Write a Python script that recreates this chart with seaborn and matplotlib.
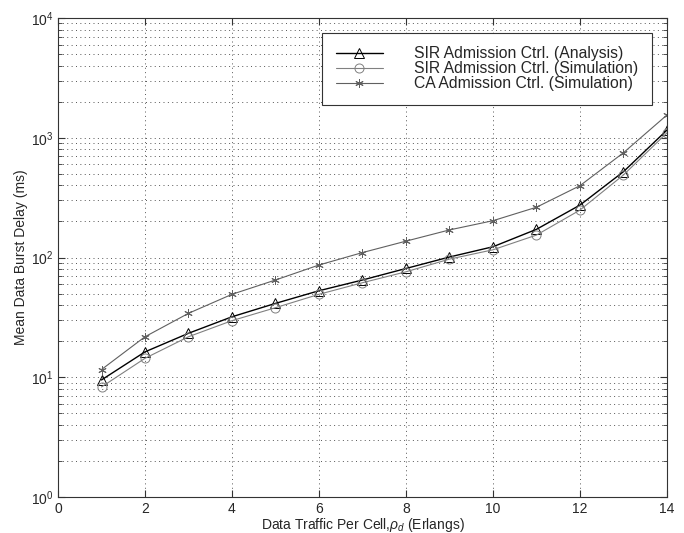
import pandas as pd
import seaborn as sns
import matplotlib.pyplot as plt
import numpy as np

# data
traffic = [1, 2, 3, 4, 5, 6, 7, 8, 9, 10, 11, 12, 13, 14]
sir_analysis = [9.5, 16.3, 23.3, 32, 41.4, 52.8, 64.9, 81, 101, 123, 172, 274, 521, 1160]
sir_sim = [8.3, 14.4, 21.8, 29.7, 38.1, 49.3, 61.6, 76, 97, 116, 154, 249, 489, 1100]
ca_sim = [11.6, 21.8, 34.2, 49.3, 64.9, 86.6, 110, 137, 170, 203, 263, 398, 750, 1550]

labels = ["SIR Admission Ctrl. (Analysis)",
          "SIR Admission Ctrl. (Simulation)",
          "CA Admission Ctrl. (Simulation)"]

sns.set_style("ticks")
plt.rcParams['font.family'] = ['Liberation Sans', 'DejaVu Sans']
plt.rcParams['mathtext.fontset'] = 'custom'
plt.rcParams['mathtext.rm'] = 'Liberation Sans'
plt.rcParams['mathtext.it'] = 'Liberation Sans:italic'

fig = plt.figure(figsize=(6.84, 5.33), dpi=100)
ax = fig.add_axes([0.0848, 0.0675, 0.8903, 0.8987])

styles = [
    dict(color="black", marker="^", ms=6.5, lw=1.0),
    dict(color="#808080", marker="o", ms=6.5, lw=0.8),
    dict(color="#606060", marker=(6, 2, 0), ms=6, lw=0.8),
]
for y, lab, st in zip([sir_analysis, sir_sim, ca_sim], labels, styles):
    sns.lineplot(x=traffic, y=y, ax=ax, label=lab, color=st["color"],
                 marker=st["marker"], markersize=st["ms"], linewidth=st["lw"],
                 markerfacecolor="none", markeredgecolor=st["color"],
                 markeredgewidth=0.7)

ax.set_yscale("log")
ax.set_xlim(0, 14)
ax.set_ylim(1, 1e4)
ax.set_xticks(np.arange(0, 15, 2))

dots = (0, (1, 3.5))
ax.grid(True, which="major", linestyle=dots, color="#555555", linewidth=0.7)
ax.grid(True, which="minor", axis="y", linestyle=dots, color="#555555", linewidth=0.7)

ax.tick_params(which="both", direction="in", top=True, right=True, labelsize=10,
               color="#333333")
ax.tick_params(which="major", length=5)
ax.tick_params(which="minor", length=3)
for s in ax.spines.values():
    s.set_visible(True)
    s.set_color("#333333")
    s.set_linewidth(0.8)

ax.set_xlabel(r"Data Traffic Per Cell,$\rho_d$ (Erlangs)", fontsize=10, labelpad=0)
ax.set_ylabel("Mean Data Burst Delay (ms)", fontsize=10, labelpad=2)

leg = ax.legend(loc="upper right", bbox_to_anchor=(0.975, 0.969), borderaxespad=0,
                fontsize=11.3, frameon=True, fancybox=False, edgecolor="#333333",
                framealpha=1, handlelength=3.0, handletextpad=2.0, borderpad=0.85,
                labelspacing=0.0)
leg.get_frame().set_linewidth(0.8)

plt.savefig("out.png", dpi=100)
